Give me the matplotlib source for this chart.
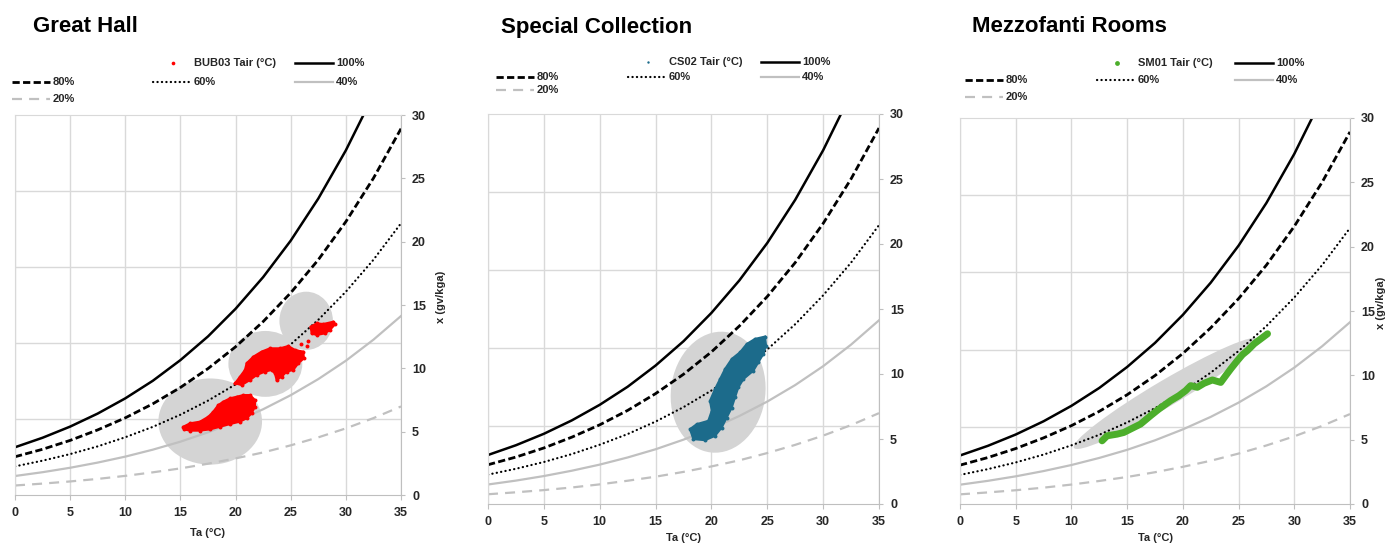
import matplotlib.pyplot as plt
from matplotlib.patches import Ellipse
from matplotlib.ticker import MultipleLocator

plt.rcParams['font.family'] = ['Liberation Sans', 'DejaVu Sans']
plt.rcParams['font.weight'] = 'bold'

# humidity ratio x (g/kg) along the constant-RH curves
rh_temp = [0, 2.5, 5, 7.5, 10, 12.5, 15, 17.5, 20, 22.5, 25, 27.5, 30, 32.5, 35]
rh_100 = [3.77, 4.52, 5.40, 6.43, 7.63, 9.02, 10.65, 12.52, 14.70, 17.20, 20.08, 23.40, 27.21, 31.58, 36.58]
rh_80 = [3.02, 3.61, 4.31, 5.14, 6.09, 7.20, 8.49, 9.98, 11.70, 13.69, 15.96, 18.57, 21.58, 25.01, 28.92]
rh_60 = [2.26, 2.71, 3.23, 3.84, 4.56, 5.38, 6.34, 7.45, 8.73, 10.21, 11.89, 13.83, 16.05, 18.57, 21.45]
rh_40 = [1.50, 1.80, 2.15, 2.56, 3.03, 3.58, 4.21, 4.95, 5.80, 6.77, 7.88, 9.15, 10.60, 12.26, 14.13]
rh_20 = [0.75, 0.90, 1.07, 1.27, 1.51, 1.79, 2.10, 2.47, 2.89, 3.36, 3.92, 4.55, 5.26, 6.07, 6.99]
rh_labels = ['100%', '80%', '60%', '40%', '20%']
rh_values = [rh_100, rh_80, rh_60, rh_40, rh_20]

titles = ['Great Hall', 'Special Collection', 'Mezzofanti Rooms']
series_names = ['BUB03 Tair (°C)', 'CS02 Tair (°C)', 'SM01 Tair (°C)']
series_colors = ['#ff0000', '#1c6b8b', '#4cae2b']

# Great Hall point clouds (outlines of the dense clusters)
gh_low_t = [15.26, 15.87, 16.77, 17.53, 17.98, 18.43, 18.89, 19.49, 20.1, 20.7, 21.31, 21.76,
            21.76, 21.46, 21.0, 20.4, 19.49, 18.59, 17.68, 16.77, 15.87, 15.32]
gh_low_x = [5.39, 5.66, 5.79, 6.18, 6.58, 7.1, 7.37, 7.63, 7.76, 7.89, 7.89, 7.5,
            6.97, 6.45, 6.05, 5.79, 5.6, 5.39, 5.18, 5.08, 5.08, 5.18]
gh_mid_t = [19.95, 20.4, 20.85, 21.0, 21.61, 22.36, 23.12, 24.03, 24.78, 25.39, 26.14, 26.2,
            25.69, 25.23, 24.63, 24.18, 23.72, 23.57, 23.27, 22.67, 21.91, 21.31, 20.55]
gh_mid_x = [8.82, 9.34, 9.87, 10.4, 10.92, 11.32, 11.58, 11.58, 11.76, 11.45, 11.32, 10.79,
            10.4, 9.87, 9.74, 9.34, 9.08, 9.6, 9.87, 9.74, 9.47, 9.08, 8.68]
gh_top_t = [26.8, 27.35, 27.95, 28.86, 29.01, 28.56, 28.1, 27.35, 26.9]
gh_top_x = [13.29, 13.55, 13.5, 13.68, 13.47, 13.03, 12.76, 12.63, 12.76]
gh_loose_t = [26.53, 26.44, 25.9]
gh_loose_x = [12.18, 11.76, 11.9]

# Special Collection point cloud outline
cs_t = [18.08, 18.68, 19.72, 20.03, 19.87, 20.32, 20.77, 21.22, 21.82, 22.56, 23.16, 23.9, 24.8,
        24.89, 24.65, 24.2, 23.75, 22.86, 22.41, 22.11, 21.82, 21.37, 20.92, 20.32, 19.43, 18.38]
cs_x = [5.76, 6.14, 6.40, 7.17, 7.94, 8.84, 9.61, 10.39, 11.16, 11.67, 12.31, 12.7, 12.88,
        12.18, 11.54, 10.9, 10.25, 9.61, 8.97, 8.2, 7.42, 6.65, 5.88, 5.24, 4.91, 4.99]

# Mezzofanti Rooms trace
sm_t = [12.75, 13.2, 14.1, 14.7, 15.3, 16.2, 17.1, 17.85, 18.9, 19.65, 20.25, 20.7, 21.3,
        21.9, 22.65, 23.4, 23.85, 24.3, 24.9, 25.35, 25.8, 26.4, 27.0, 27.6]
sm_x = [4.91, 5.3, 5.43, 5.56, 5.82, 6.21, 6.86, 7.38, 8.03, 8.42, 8.81, 9.2, 9.07,
        9.38, 9.64, 9.45, 9.98, 10.5, 11.15, 11.61, 11.93, 12.45, 12.84, 13.23]

# grey comfort zones: centre T, centre x, width, height, angle
gh_zones = [(17.7, 5.8, 9.4, 6.8, 0), (22.7, 10.35, 6.7, 5.2, 0), (26.4, 13.75, 4.85, 4.6, 0)]
cs_zones = [(20.6, 8.6, 8.4, 9.4, -18)]
sm_zones = [(18.5, 8.6, 18.6, 2.1, 27)]

W, H = 1388, 544
GRID = '#d9d9d9'
AXIS = '#bfbfbf'
TXT = '#262626'
ZONE = '#d4d4d4'

curve_styles = {
    '100%': dict(color='black', lw=1.8),
    '80%': dict(color='black', lw=2.0, dashes=(2.6, 1.2)),
    '60%': dict(color='black', lw=1.6, dashes=(0.1, 1.9), dash_capstyle='round'),
    '40%': dict(color='#c0c0c0', lw=1.6),
    '20%': dict(color='#c0c0c0', lw=1.6, dashes=(4.5, 3.2)),
}
marker_sizes = [7, 3, 12]

# panel layout in pixels: left, top, right, bottom
panels = [
    dict(rect=(15, 115, 401, 495), title_x=33, xlabel_y=533, ylabel_x=441,
         leg_cols=(12, 153, 295), leg_rows=(63, 82, 99)),
    dict(rect=(488, 114, 879, 504), title_x=501, xlabel_y=538, ylabel_x=None,
         leg_cols=(496, 628, 761), leg_rows=(62, 77, 90)),
    dict(rect=(960, 118, 1350, 504), title_x=972, xlabel_y=538, ylabel_x=1381,
         leg_cols=(965, 1097, 1235), leg_rows=(63, 80, 97)),
]
legend_grid = [(0, 1, 'series'), (0, 2, '100%'), (1, 0, '80%'), (1, 1, '60%'),
               (1, 2, '40%'), (2, 0, '20%')]

fig = plt.figure(figsize=(W / 100, H / 100), dpi=100)


def fx(px):
    return px / W


def fy(py):
    return 1 - py / H


def setup_axes(spec):
    l, t, r, b = spec['rect']
    ax = fig.add_axes([fx(l), fy(b), (r - l) / W, (b - t) / H])
    ax.set_xlim(0, 35)
    ax.set_ylim(0, 30)
    ax.xaxis.set_major_locator(MultipleLocator(5))
    ax.yaxis.set_major_locator(MultipleLocator(5))
    ax.yaxis.set_minor_locator(MultipleLocator(6))
    ax.yaxis.tick_right()
    ax.grid(axis='x', which='major', color=GRID, lw=1)
    ax.grid(axis='y', which='minor', color=GRID, lw=1)
    ax.set_axisbelow(True)
    for side in ['top', 'left']:
        ax.spines[side].set_color(GRID)
    for side in ['bottom', 'right']:
        ax.spines[side].set_color(AXIS)
    ax.tick_params(axis='x', length=3.6, color=AXIS, pad=4.7, labelsize=9, labelcolor=TXT)
    ax.tick_params(axis='y', which='major', length=3, color=AXIS, pad=5, labelsize=9,
                   labelcolor=TXT)
    ax.tick_params(axis='y', which='minor', length=0)
    return ax


def draw_curves(ax):
    for lab, vals in zip(rh_labels, rh_values):
        ax.plot(rh_temp, vals, zorder=2, **curve_styles[lab])


def draw_zones(ax, zones):
    for cx, cy, w, h, ang in zones:
        ax.add_patch(Ellipse((cx, cy), w, h, angle=ang, facecolor=ZONE,
                             edgecolor='none', zorder=1))


def draw_cloud(ax, t, x, color):
    ax.fill(t, x, color=color, lw=1.5, zorder=3)
    ax.scatter(t, x, s=8, color=color, lw=0, zorder=3)


over = fig.add_axes([0, 0, 1, 1], zorder=5)
over.set_xlim(0, W)
over.set_ylim(H, 0)
over.axis('off')
over.patch.set_visible(False)


def draw_legend(spec, name, color, msize):
    for row, col, key in legend_grid:
        x0 = spec['leg_cols'][col]
        y0 = spec['leg_rows'][row]
        if key == 'series':
            over.scatter([x0 + 20], [y0], s=msize, color=color, lw=0)
            label = name
        else:
            over.plot([x0, x0 + 38], [y0, y0], **curve_styles[key])
            label = key
        over.text(x0 + 41, y0, label, fontsize=8, color=TXT, va='center', ha='left')


axes = [setup_axes(p) for p in panels]

draw_zones(axes[0], gh_zones)
draw_zones(axes[1], cs_zones)
draw_zones(axes[2], sm_zones)
for ax in axes:
    draw_curves(ax)

draw_cloud(axes[0], gh_low_t, gh_low_x, series_colors[0])
draw_cloud(axes[0], gh_mid_t, gh_mid_x, series_colors[0])
draw_cloud(axes[0], gh_top_t, gh_top_x, series_colors[0])
axes[0].scatter(gh_loose_t, gh_loose_x, s=8, color=series_colors[0], lw=0, zorder=3)
draw_cloud(axes[1], cs_t, cs_x, series_colors[1])
axes[2].plot(sm_t, sm_x, color=series_colors[2], lw=5, solid_capstyle='round',
             solid_joinstyle='round', zorder=3)

for i, spec in enumerate(panels):
    l, t, r, b = spec['rect']
    fig.text(fx(spec['title_x']), fy(32.5), titles[i], fontsize=16, color='black',
             va='baseline', ha='left')
    fig.text(fx((l + r) / 2), fy(spec['xlabel_y']), 'Ta (°C)', fontsize=8, color=TXT,
             ha='center', va='center')
    if spec['ylabel_x'] is not None:
        fig.text(fx(spec['ylabel_x']), fy((t + b) / 2 - 8), 'x (gv/kga)', fontsize=8,
                 color=TXT, rotation=90, ha='center', va='center')
    draw_legend(spec, series_names[i], series_colors[i], marker_sizes[i])

fig.savefig('out.png', dpi=100)
